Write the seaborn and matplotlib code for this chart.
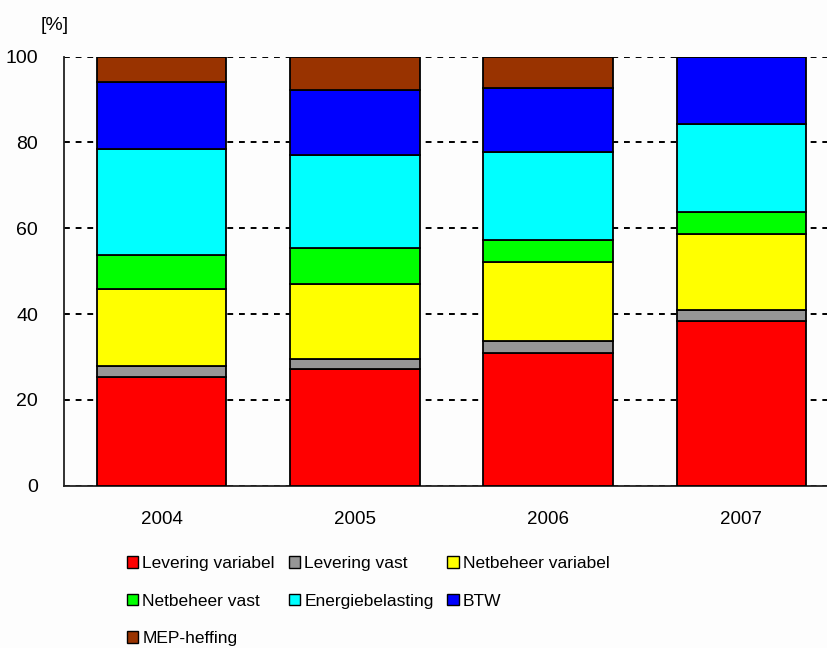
import numpy as np
import matplotlib as mpl
import matplotlib.pyplot as plt
import seaborn as sns
from matplotlib.patches import Patch

years = ['2004', '2005', '2006', '2007']

components = ['Levering variabel', 'Levering vast', 'Netbeheer variabel',
              'Netbeheer vast', 'Energiebelasting', 'BTW', 'MEP-heffing']

levering_variabel = [25.4, 27.3, 31.0, 38.4]
levering_vast = [2.5, 2.3, 2.8, 2.6]
netbeheer_variabel = [18.0, 17.5, 18.4, 17.7]
netbeheer_vast = [7.8, 8.4, 5.1, 5.2]
energiebelasting = [24.9, 21.7, 20.4, 20.3]
btw = [15.4, 15.0, 14.9, 15.8]
mep_heffing = [6.0, 7.8, 7.4, 0.0]

series = [levering_variabel, levering_vast, netbeheer_variabel, netbeheer_vast,
          energiebelasting, btw, mep_heffing]
colors = ['#ff0000', '#969696', '#ffff00', '#00ff00', '#00ffff', '#0000ff', '#993300']

sns.set_theme(style='white')
plt.rcParams['font.family'] = ['Liberation Sans', 'DejaVu Sans']
plt.rcParams['text.color'] = 'black'

fig = plt.figure(figsize=(8.27, 6.48), dpi=100, facecolor='#fdfdfd')
ax = fig.add_axes([0.0778, 0.2505, 0.9222, 0.662])
ax.set_facecolor('#fdfdfd')

bottom = np.zeros(len(years))
for name, vals, col in zip(components, series, colors):
    sns.barplot(x=years, y=vals, bottom=bottom, color=col, width=0.67,
                edgecolor='black', linewidth=1.3, saturation=1, ax=ax, zorder=3)
    bottom = bottom + np.array(vals)

ax.set_ylim(0, 100)
ax.set_xlim(-0.503, 3.443)
ax.set_yticks([0, 20, 40, 60, 80, 100])
ax.yaxis.grid(True, color='black', linestyle=(0, (3, 3)), linewidth=1.4, zorder=0)
ax.set_axisbelow(True)
for s in ['top', 'right']:
    ax.spines[s].set_visible(False)
for s in ['left', 'bottom']:
    ax.spines[s].set_color('#222222')
    ax.spines[s].set_linewidth(1.3)
ax.tick_params(axis='y', length=0, pad=19, labelsize=14, colors='black')
ax.tick_params(axis='x', length=0, pad=18, labelsize=13.5, colors='black')
ax.set_xlabel('')
ax.set_ylabel('')

fig.text(0.066, 0.961, '[%]', ha='center', va='center', fontsize=14)

# legend, column-major order so it reads row by row like the original
order = [0, 3, 6, 1, 4, 2, 5]
handles = [Patch(facecolor=colors[i], edgecolor='black', linewidth=1) for i in order]
labels = [components[i] for i in order]
fig.legend(handles, labels, ncol=3, frameon=False, loc='upper left',
           bbox_to_anchor=(0.153, 1 - 556 / 648), bbox_transform=fig.transFigure,
           handlelength=0.65, handleheight=0.65, handletextpad=0.25,
           columnspacing=0.8, labelspacing=1.3, borderpad=0, borderaxespad=0,
           fontsize=12.5)

fig.savefig('out.png', dpi=100, facecolor=fig.get_facecolor())
